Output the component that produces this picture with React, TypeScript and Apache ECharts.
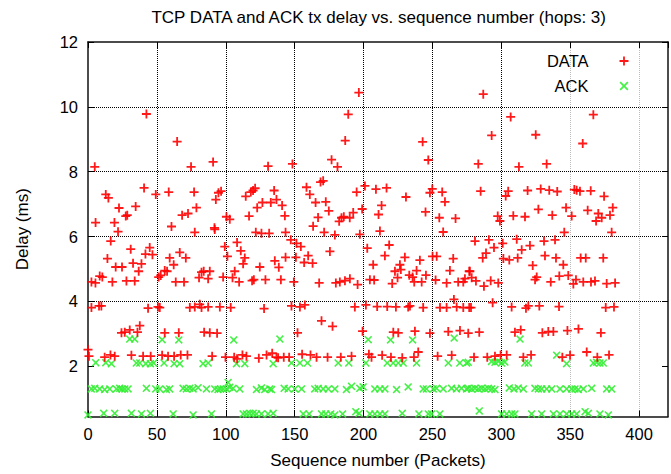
import React, { useEffect, useRef } from "react";
import * as echarts from "echarts";

const titleText = "TCP DATA and ACK tx delay vs. sequence number (hops: 3)";
const xName = "Sequence number (Packets)";
const yName = "Delay (ms)";
const seriesNames = ["DATA", "ACK"];
const yTicks = [2, 4, 6, 8, 10, 12];

// DATA: [sequence number, delay ms]
const dataPoints: number[][] = [
  [4.9, 8.15], [42.4, 9.78], [64.7, 8.93], [74.8, 8.15], [90.8, 8.3], [130.7, 8.17],
  [5.5, 6.43], [12.9, 7.3], [14.8, 7.19], [22.5, 6.88], [27.4, 6.63], [28.5, 6.66], [34.6, 6.93], [40.7, 7.5],
  [49.2, 7.3], [19.2, 6.43], [58.6, 7.37], [60.6, 6.31], [68.3, 6.66], [72.6, 6.71], [77, 7.37], [78.7, 6.89],
  [92.8, 7.14], [94.7, 7.35], [96.6, 7.4], [100.5, 6.61], [102.9, 6.53], [114.5, 7.24], [116.9, 6.63],
  [118.2, 7.37], [119.8, 7.42], [121.3, 7.49], [122.8, 6.89], [126.6, 7.05], [132.7, 7.05], [135.1, 7.42],
  [136.8, 7.14], [91.8, 6.27],
  [148.4, 8.24], [196.6, 10.44], [188.9, 9.77], [186.7, 8.96], [176.8, 8.37], [181.1, 8.15], [242.9, 8.92], [247, 8.36],
  [140.9, 6.96], [142.9, 6.64], [158.6, 7.52], [161, 7.3], [165.2, 7.05], [167, 6.59], [168.8, 7.68], [170.7, 7.72],
  [172.6, 7.07], [174.8, 6.79], [182.3, 6.47], [184, 6.58], [185.7, 6.61], [190, 6.58], [192.5, 6.74], [195, 7.37],
  [201, 7.56], [199, 6.85], [209, 7.46], [213.1, 6.96], [210.9, 6.68], [216.7, 7.5], [230.8, 7.22], [245, 6.76],
  [249.9, 7.47], [248.2, 7.35], [257.1, 7.37], [259.1, 7.07], [255, 6.58], [266.8, 6.56], [163.4, 6.32],
  [286.9, 10.39], [306.8, 9.69], [366.8, 9.76], [293, 9.12], [325, 9.14], [359.1, 8.87], [283.3, 8.24], [312.8, 8.15],
  [332.9, 8.24],
  [285, 7.4], [305, 7.4], [303.2, 7.25], [319.1, 7.42], [328.6, 7.47], [334.8, 7.43], [340.6, 7.39], [353, 7.45],
  [354.7, 7.43], [357.1, 7.4], [364.9, 7.41], [374.6, 7.24], [380.9, 6.89], [378.9, 6.66], [297.4, 6.63], [299, 6.48],
  [308.7, 6.64], [317.2, 6.61], [326.9, 6.84], [337, 6.66], [347, 6.89], [351.1, 6.63], [362.7, 6.81], [370.4, 6.71],
  [372.9, 6.58], [368.8, 6.48],
  [21.8, 6.15], [16.5, 5.86], [31, 5.61], [44.8, 5.66], [41.7, 5.46], [46.8, 5.44], [14.1, 5.32], [32.7, 5.18],
  [38.8, 5.16], [20.1, 5.06], [24.7, 5.06], [36.8, 4.93], [8.5, 4.78], [10.4, 4.75], [2.5, 4.6], [5.4, 4.57],
  [17.7, 4.6], [27.9, 4.63], [33.9, 4.63], [51.3, 4.75], [52.8, 4.8], [59.3, 5.34], [62.2, 5.13], [66.6, 5.51],
  [71, 5.34], [55.7, 4.95], [57.4, 4.93], [63.7, 4.6], [69.7, 4.6], [77.5, 6.13], [92, 6.22], [82.4, 4.9], [84, 4.93],
  [88.4, 4.93], [80.6, 4.73], [87.2, 4.7], [99.3, 5.69], [101.2, 5.39], [108.2, 5.82], [110.9, 5.56], [113.8, 5.34],
  [112.6, 5.16], [106.5, 4.93], [98.1, 4.75], [104.9, 4.73], [109.7, 4.6], [119.1, 4.64], [120.4, 4.67],
  [124.7, 5.06], [128.8, 4.67], [135.6, 5.25], [138.5, 5.05], [121.8, 6.13], [125.9, 6.1], [131.5, 6.1],
  [2.5, 3.81], [8, 3.86], [9.7, 3.86], [43.6, 3.79], [50.8, 3.83], [52.1, 3.81], [73.9, 3.81], [77.5, 3.83],
  [81.1, 3.91], [82.4, 3.81], [87.2, 3.83], [95.7, 3.83], [103.6, 3.81], [127.8, 3.78],
  [37.6, 3.25], [35.9, 3.05], [30.3, 3.12], [26.7, 3.05], [24.3, 3.03], [55.7, 3.03], [65.9, 3.03], [84.3, 3.05],
  [88.4, 3.03], [93.7, 3.02],
  [0, 2.51], [0.7, 2.31], [12.1, 2.28], [16.3, 2.35], [19.4, 2.31], [31.5, 2.34], [40, 2.31], [45.5, 2.31],
  [53.8, 2.34], [58.1, 2.31], [62.5, 2.31], [67.3, 2.35], [72.2, 2.35], [90.1, 2.31], [99.8, 2.28], [106.1, 2.28],
  [108.2, 2.23], [112.1, 2.35], [115, 2.31], [124, 2.25], [129.6, 2.35], [133.7, 2.4], [136.8, 2.28],
  [143.4, 6.13], [147.2, 5.9], [151.3, 5.79], [154.5, 5.69], [171.4, 6.13], [179.2, 6.05], [197.3, 6.07],
  [211.9, 6.17], [143.4, 5.36], [150.9, 5.36], [156.9, 5.2], [159.8, 5.41], [163, 5.18], [175.6, 5.54],
  [140, 4.67], [149.4, 4.6], [167.8, 4.57], [179.9, 4.57], [182.8, 4.6], [186.5, 4.64], [190.1, 4.7], [195.7, 4.52],
  [202.7, 5.64], [207, 5.13], [204.6, 4.67], [207.7, 4.66], [215.5, 5.41], [218.6, 5.74], [222.8, 4.93],
  [224.7, 4.73], [227.1, 4.98], [230, 5.36], [226.4, 5.13], [220.8, 4.55], [233.2, 4.81], [235.6, 4.75],
  [238.5, 4.95], [236.8, 4.6], [240.9, 5.27], [242.2, 4.6], [245.3, 4.81], [250.1, 5.39], [253.1, 5.39],
  [252.3, 4.66], [260.3, 4.57], [265.1, 5.32], [262.7, 4.95], [268.7, 4.6], [272.4, 4.6], [276.7, 4.93], [257.8, 6.14],
  [147.7, 3.86], [153.8, 3.83], [157.4, 3.89], [193.7, 3.83], [201.7, 3.89], [209.9, 3.84], [217.2, 3.84],
  [223.5, 3.83], [232.4, 3.83], [233.7, 3.86], [243.3, 3.81], [255.5, 3.81], [260.3, 3.81], [265.6, 4.06],
  [267.6, 3.83], [272.4, 3.81], [276.7, 3.81],
  [169.5, 3.4], [177.5, 3.23], [152.1, 3.03], [199.3, 3.08], [221.6, 3.05], [225.2, 3.03], [237.3, 3.08],
  [248.2, 3.02], [261.5, 3.07], [270, 3.1], [276, 3.02],
  [138, 2.26], [142.1, 2.28], [146, 2.28], [155.4, 2.37], [161.5, 2.35], [165.9, 2.28], [173.9, 2.28], [183.5, 2.28],
  [191.3, 2.31], [203.9, 2.37], [205.8, 2.28], [213.5, 2.34], [219.9, 2.28], [228.1, 2.26], [236.6, 2.28],
  [239.7, 2.44], [253.8, 2.31], [264, 2.34],
  [345.7, 6.13], [380.1, 6.13], [280.9, 5.86], [291, 5.9], [301, 5.79], [311.2, 5.92], [331, 5.86], [339, 5.9],
  [286.5, 5.34], [288.9, 5.49], [294.7, 5.66], [301.5, 5.32], [305.8, 5.28], [311.9, 5.34], [314.8, 5.59],
  [320.8, 5.72], [331.7, 5.41], [339.7, 5.34], [345, 5.13], [357.6, 5.34], [361.3, 5.34], [374, 5.34], [322.8, 5.11],
  [277.2, 4.93], [278.5, 4.73], [273.6, 4.7], [281.6, 4.63], [287.4, 4.47], [292.3, 4.64], [297.8, 4.57],
  [324.5, 4.67], [325.7, 4.75], [335.9, 4.6], [342.1, 4.78], [348.6, 4.8], [352.3, 4.54], [354.2, 4.67],
  [359.5, 4.6], [365.1, 4.6], [368, 4.63], [376.5, 4.55], [382.6, 4.57],
  [278, 3.81], [293.7, 3.96], [307.5, 3.83], [317.9, 3.79], [319.6, 3.86], [327.6, 3.86], [341.9, 3.84],
  [375.8, 3.81], [381.8, 3.83],
  [284, 3.05], [309.9, 3.05], [314.1, 3.12], [329.8, 3.03], [334.1, 3.07], [337.8, 3.07], [348, 3.1], [356, 3.15],
  [372.3, 3.03],
  [280.2, 2.28], [289.8, 2.28], [295.4, 2.31], [299.5, 2.35], [303.9, 2.35], [316, 2.28], [321.6, 2.35],
  [344.3, 2.28], [349.9, 2.34], [362, 2.44], [369.7, 2.28], [378.2, 2.35],
];

// ACK: [sequence number, delay ms]
const ackPoints: number[][] = [
  [30.3, 2.84], [33.9, 2.84], [53.8, 2.82], [65.9, 2.81], [105.8, 2.81], [139.3, 2.84], [203.4, 2.82], [219.6, 2.81],
  [235.6, 2.81], [265.8, 2.87], [313.6, 2.84], [340.2, 2.34],
  [5.6, 2.11], [12.9, 2.11], [17, 2.08], [35.1, 2.1], [37.6, 2.1], [41.9, 2.08], [45.3, 2.08], [47.7, 2.1],
  [55.2, 2.1], [62.5, 2.08], [66.6, 2.08], [83.5, 2.08], [87.2, 2.1], [107.8, 2.08], [113.8, 2.08], [134.4, 2.08],
  [147.7, 2.1], [153.8, 2.1], [159.3, 2.1], [181.6, 2.1], [189.3, 2.1], [201.7, 2.1], [217.2, 2.1], [221.5, 2.1],
  [225.2, 2.1], [228.8, 2.1], [238.5, 2.1], [261.5, 2.1], [269.9, 2.1], [274.8, 2.1], [276, 2.12], [292.9, 2.15],
  [295.4, 2.12], [297.8, 2.15], [300.2, 2.1], [302.6, 2.13], [317.1, 2.1], [319.6, 2.1], [347.4, 2.08],
  [366.8, 2.1], [369.2, 2.12], [371.6, 2.1], [374, 2.1],
  [2.4, 1.3], [4.9, 1.32], [8.5, 1.3], [12.1, 1.28], [15.8, 1.3], [20.6, 1.3], [23, 1.32], [24.7, 1.3], [26.7, 1.3],
  [29.1, 1.3], [42.4, 1.32], [49.2, 1.3], [52.1, 1.3], [56.9, 1.28], [59.3, 1.3], [69, 1.32], [71.4, 1.3],
  [73.9, 1.32], [76.3, 1.3], [79.9, 1.34], [86, 1.3], [92, 1.3], [94.4, 1.28], [96.1, 1.3], [98.1, 1.3],
  [100.5, 1.3], [101.7, 1.5], [102.9, 1.35], [105.3, 1.32], [110.2, 1.3], [122.3, 1.28], [125.9, 1.33],
  [128.3, 1.28], [132, 1.3],
  [133.2, 1.28], [142.4, 1.32], [145.3, 1.3], [150.1, 1.3], [155, 1.3], [164.6, 1.3], [167.1, 1.32], [170.7, 1.3],
  [174.4, 1.3], [179.2, 1.3], [187.6, 1.28], [191.3, 1.38], [197.3, 1.32], [199.7, 1.36], [208.2, 1.3],
  [211.9, 1.3], [215.5, 1.3], [224, 1.28], [232.4, 1.36], [243.3, 1.3], [245.7, 1.3], [250.6, 1.3], [253, 1.32],
  [257.8, 1.3], [263.9, 1.32], [267.5, 1.3], [271.1, 1.32], [274.8, 1.3],
  [276, 1.32], [278.5, 1.3], [280.9, 1.32], [283.3, 1.3], [285.7, 1.32], [288.2, 1.3], [290.6, 1.32], [293, 1.3],
  [295.4, 1.28], [305.8, 1.33], [309.2, 1.3], [312.3, 1.33], [316, 1.3], [324.4, 1.32], [326.9, 1.3],
  [329.3, 1.3], [332.9, 1.3], [336.6, 1.3], [342.6, 1.3], [347.4, 1.3], [351.1, 1.3], [353.5, 1.3], [355.9, 1.28],
  [359.5, 1.3], [365.6, 1.32], [376.5, 1.3], [380.1, 1.3],
  [0, 0.5], [11.4, 0.55], [19.4, 0.55], [31.5, 0.55], [38.8, 0.53], [45.3, 0.55], [61.8, 0.53], [76.3, 0.5],
  [89.6, 0.53], [112.6, 0.53], [115, 0.53], [117.4, 0.55], [119.9, 0.55], [122.3, 0.53], [125.9, 0.53],
  [130.7, 0.53], [134.4, 0.55],
  [156.2, 0.53], [160.5, 0.53], [169.5, 0.53], [172.6, 0.53], [176.2, 0.53], [179.2, 0.5], [184.8, 0.53],
  [194.4, 0.6], [196.8, 0.55], [204.6, 0.53], [208.2, 0.53], [211.9, 0.53], [215.5, 0.53], [228.1, 0.55],
  [240.2, 0.53], [247, 0.53], [249.4, 0.53], [255.4, 0.53],
  [284, 0.62], [300.2, 0.53], [303.9, 0.53], [307.5, 0.53], [309.9, 0.53], [322, 0.53], [329.3, 0.53],
  [337.8, 0.53], [342.6, 0.53], [347.4, 0.53], [351.1, 0.53], [354.7, 0.53], [360.8, 0.6], [363.2, 0.55],
  [371.6, 0.53], [377.7, 0.5],
];

const FONT = "'Liberation Sans', Arial, Helvetica, sans-serif";
const PLUS = "path://M4,0H6V4H10V6H6V10H4V6H0V4H4Z";
const CROSS = "path://M0,1.4L1.4,0L5,3.6L8.6,0L10,1.4L6.4,5L10,8.6L8.6,10L5,6.4L1.4,10L0,8.6L3.6,5Z";
const RED = "#ff0000";
const GREEN = "#33ee33";

export default function App() {
  const ref = useRef<HTMLDivElement>(null);
  useEffect(() => {
    if (!ref.current) return;
    const chart = echarts.init(ref.current, null, { renderer: "svg" });
    const gridColors = ["#000", "#000", "#000", "#000", "#000", "#000", "#bbb", "#bbb"];
    const frame = { show: true, onZero: false, lineStyle: { color: "#111", width: 1.5 } };
    chart.setOption({
      animation: false,
      backgroundColor: "#fff",
      textStyle: { fontFamily: FONT },
      grid: { left: 88, top: 42, width: 580, height: 378, containLabel: false },
      graphic: [
        {
          type: "text",
          x: 378.7,
          y: 17,
          style: {
            text: titleText,
            textAlign: "center",
            textVerticalAlign: "middle",
            fill: "#000",
            font: `17px ${FONT}`,
          },
        },
      ],
      legend: {
        data: seriesNames,
        orient: "vertical",
        right: 42.5,
        top: 52.5,
        padding: 0,
        align: "right",
        itemWidth: 9,
        itemHeight: 9,
        itemGap: 8,
        textStyle: {
          fontSize: 16.5,
          color: "#000",
          lineHeight: 17,
          fontFamily: FONT,
          padding: [0, 26, 0, 0],
        },
      },
      xAxis: [
        {
          type: "value",
          min: 0,
          max: 421,
          interval: 50,
          position: "bottom",
          name: xName,
          nameLocation: "middle",
          nameGap: 35.5,
          nameTextStyle: { fontSize: 17, color: "#000", fontFamily: FONT },
          axisLine: frame,
          axisTick: { show: true, inside: true, length: 6, lineStyle: { color: "#000" } },
          axisLabel: { fontSize: 16.5, color: "#000", margin: 9, showMaxLabel: false, fontFamily: FONT },
          splitLine: {
            show: true,
            showMinLine: false,
            showMaxLine: false,
            lineStyle: { color: gridColors, type: [1, 1], width: 1 },
          },
        },
        {
          type: "value",
          min: 0,
          max: 421,
          interval: 50,
          position: "top",
          axisLine: frame,
          axisTick: { show: true, inside: true, length: 6, lineStyle: { color: "#000" } },
          axisLabel: { show: false },
          splitLine: { show: false },
        },
      ],
      yAxis: [
        {
          type: "value",
          min: 0.45,
          max: 12,
          position: "left",
          name: yName,
          nameLocation: "middle",
          nameGap: 57,
          nameTextStyle: { fontSize: 17, color: "#000", fontFamily: FONT },
          axisLine: frame,
          axisTick: { show: true, inside: true, length: 6, customValues: yTicks, lineStyle: { color: "#000" } },
          axisLabel: { fontSize: 16.5, color: "#000", margin: 10, customValues: yTicks, fontFamily: FONT },
          splitLine: {
            show: true,
            showMinLine: false,
            showMaxLine: false,
            lineStyle: { color: "#000", type: [1, 1], width: 1 },
          },
        },
        {
          type: "value",
          min: 0.45,
          max: 12,
          position: "right",
          axisLine: frame,
          axisTick: { show: true, inside: true, length: 6, customValues: yTicks, lineStyle: { color: "#000" } },
          axisLabel: { show: false, customValues: yTicks },
          splitLine: { show: false },
        },
      ],
      series: [
        {
          name: seriesNames[0],
          type: "scatter",
          data: dataPoints,
          symbol: PLUS,
          symbolSize: 9,
          itemStyle: { color: RED, opacity: 0.9 },
          z: 3,
        },
        {
          name: seriesNames[1],
          type: "scatter",
          data: ackPoints,
          symbol: CROSS,
          symbolSize: 8,
          itemStyle: { color: GREEN, opacity: 0.9 },
          z: 2,
        },
      ],
    });
    return () => chart.dispose();
  }, []);
  return (
    <div
      ref={ref}
      style={{ position: "fixed", left: 0, top: 0, width: 671, height: 474, background: "#fff" }}
    />
  );
}
